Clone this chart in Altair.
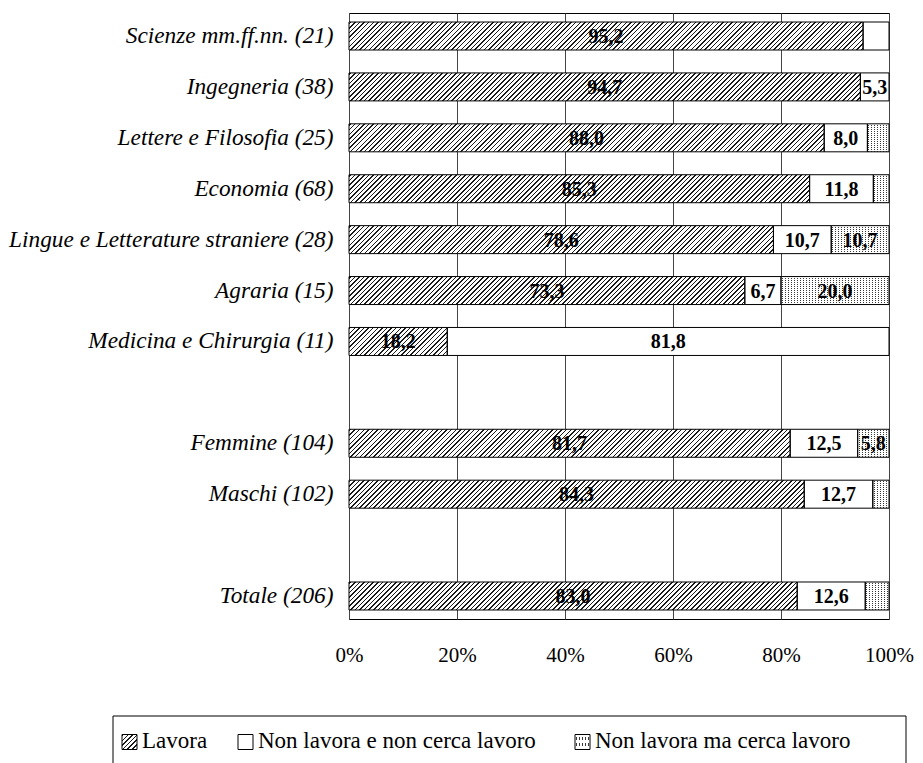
import altair as alt
import pandas as pd

# ---------------- data ----------------
categories = [
    "Scienze mm.ff.nn. (21)",
    "Ingegneria (38)",
    "Lettere e Filosofia (25)",
    "Economia (68)",
    "Lingue e Letterature straniere (28)",
    "Agraria (15)",
    "Medicina e Chirurgia (11)",
    "Femmine (104)",
    "Maschi (102)",
    "Totale (206)",
]
row_order = categories[:7] + [" "] + categories[7:9] + ["  "] + categories[9:]
statuses = ["Lavora", "Non lavora e non cerca lavoro", "Non lavora ma cerca lavoro"]
lavora = [95.2, 94.7, 88.0, 85.3, 78.6, 73.3, 18.2, 81.7, 84.3, 83.0]
non_cerca = [4.8, 5.3, 8.0, 11.8, 10.7, 6.7, 81.8, 12.5, 12.7, 12.6]
cerca = [0.0, 0.0, 4.0, 2.9, 10.7, 20.0, 0.0, 5.8, 3.0, 4.4]
tick_values = [0, 20, 40, 60, 80, 100]

series = [lavora, non_cerca, cerca]
rows = []
for i, c in enumerate(categories):
    for j, s in enumerate(statuses):
        rows.append({"cat": c, "s": s, "o": j, "v": series[j][i]})
df = pd.DataFrame(rows)

# ---------------- layout / style ----------------
W, H = 540, 606
PAD_L, PAD_T = 341, 5
PAD_IN, PAD_OUT = 0.45, 0.177
STEP = H / (len(row_order) - PAD_IN + 2 * PAD_OUT)
BAR_H = STEP * (1 - PAD_IN)
FONT = "Liberation Serif"
CLEAR = "rgba(255,255,255,0)"


def stripe_stops(L, period, lw, ink, bg, start=1.0):
    stops = [{"offset": 0, "color": bg}]
    p = start
    while p < L:
        a = round(p / L, 5)
        b = round(min((p + lw) / L, 1.0), 5)
        stops += [
            {"offset": a, "color": bg},
            {"offset": a, "color": ink},
            {"offset": b, "color": ink},
            {"offset": b, "color": bg},
        ]
        p += period
    stops.append({"offset": 1, "color": bg})
    return stops


def hatch(w, h, period=4.6, lw=1.5, ink="#1a1a1a", bg="#ffffff"):
    L = w + h
    d = w * w + h * h
    return {"gradient": "linear", "x1": 0, "y1": 0,
            "x2": round(L * w / d, 5), "y2": round(L * h / d, 5),
            "stops": stripe_stops(L, period, lw, ink, bg)}


def dot_rows(h):
    return {"gradient": "linear", "x1": 0, "y1": 0, "x2": 0, "y2": 1,
            "stops": stripe_stops(h, 2.0, 1.0, "#3a3a3a", "#ffffff")}


def dot_cols(w):
    # opaque white with transparent columns -> leaves dots where rows are dark
    return {"gradient": "linear", "x1": 0, "y1": 0, "x2": 1, "y2": 0,
            "stops": stripe_stops(w, 3.0, 1.0, CLEAR, "#ffffff")}


base = alt.Chart(df).transform_stack(
    stack="v", groupby=["cat"], sort=[alt.SortField("o", order="ascending")],
    as_=["x0", "x1"],
).transform_filter("datum.v > 0")

y_enc = alt.Y(
    "cat:N",
    scale=alt.Scale(domain=row_order, paddingInner=PAD_IN, paddingOuter=PAD_OUT),
    axis=alt.Axis(title=None, ticks=False, domain=False, labelFont=FONT,
                  labelFontStyle="italic", labelFontSize=23.3, labelColor="black",
                  labelPadding=16, labelLimit=400, grid=False),
)
x_scale = alt.Scale(domain=[0, 100], nice=False)
x_axis = alt.Axis(title=None, values=tick_values, labelExpr="datum.value + '%'",
                  ticks=False, domain=False, labelFont=FONT, labelFontSize=21,
                  labelColor="black", labelPadding=25, grid=True, gridColor="#444444",
                  gridWidth=1, labelOverlap=False, labelFlush=False)
x_enc = alt.X("x0:Q", scale=x_scale, axis=x_axis)
x2_enc = alt.X2("x1:Q")

# hatch / dot fill per bar (depends on bar pixel width)
hatch_conds = [
    {"test": f"datum.cat === '{c}'", "value": hatch(v / 100 * W, BAR_H)}
    for c, v in zip(categories, lavora)
]
mask_conds = [
    {"test": f"datum.cat === '{c}'", "value": dot_cols(v / 100 * W)}
    for c, v in zip(categories, cerca) if v > 0
]

lav_layer = base.transform_filter(alt.datum.s == statuses[0]).mark_bar(
    strokeWidth=0
).encode(x=x_enc, x2=x2_enc, y=y_enc,
         fill=alt.FillValue(value="#888888", condition=hatch_conds))

white_layer = base.transform_filter(alt.datum.s == statuses[1]).mark_bar(
    fill="white", strokeWidth=0
).encode(x=x_enc, x2=x2_enc, y=y_enc)

rows_layer = base.transform_filter(alt.datum.s == statuses[2]).mark_bar(
    fill=dot_rows(BAR_H), strokeWidth=0
).encode(x=x_enc, x2=x2_enc, y=y_enc)

mask_layer = base.transform_filter(alt.datum.s == statuses[2]).mark_bar(
    strokeWidth=0
).encode(x=x_enc, x2=x2_enc, y=y_enc,
         fill=alt.FillValue(value=CLEAR, condition=mask_conds))

outline = base.mark_bar(fillOpacity=0, stroke="black", strokeWidth=1).encode(
    x=x_enc, x2=x2_enc, y=y_enc
)

labels = base.transform_filter("datum.v >= 5").transform_calculate(
    xm="(datum.x0 + datum.x1) / 2",
    lab="replace(format(datum.v, '.1f'), '.', ',')",
).mark_text(font=FONT, fontSize=20, fontWeight="bold", color="black",
            align="center", baseline="middle", dy=1).encode(
    x=alt.X("xm:Q", scale=x_scale, axis=x_axis), y=y_enc, text="lab:N"
)

# ---------------- legend (manual, boxed) ----------------
OX, OY = 8 + PAD_L, 8 + PAD_T  # plot origin on the page
box_l, box_r, box_t, box_b = 113, 906, 716, 790
sym = 15
sym_y = 742
item_x = [122, 238, 575]  # symbol left edges (page px)
one = pd.DataFrame({"k": [0]})

legend_layers = [
    alt.Chart(one).mark_rect(fill="transparent", stroke="black", strokeWidth=1).encode(
        x=alt.value(box_l - OX), x2=alt.value(box_r - OX),
        y=alt.value(box_t - OY), y2=alt.value(box_b - OY))
]
sym_fills = [
    [hatch(sym, sym)],
    ["#ffffff"],
    [dot_rows(sym), dot_cols(sym)],
]
for s, xl, fills in zip(statuses, item_x, sym_fills):
    for f in fills:
        legend_layers.append(
            alt.Chart(one).mark_rect(fill=f, strokeWidth=0).encode(
                x=alt.value(xl - OX), x2=alt.value(xl + sym - OX),
                y=alt.value(sym_y - sym / 2 - OY), y2=alt.value(sym_y + sym / 2 - OY)))
    legend_layers.append(
        alt.Chart(one).mark_rect(fill="transparent", stroke="black", strokeWidth=1).encode(
            x=alt.value(xl - OX), x2=alt.value(xl + sym - OX),
            y=alt.value(sym_y - sym / 2 - OY), y2=alt.value(sym_y + sym / 2 - OY)))
    legend_layers.append(
        alt.Chart(pd.DataFrame({"s": [s]})).mark_text(
            font=FONT, fontSize=23, color="black", align="left", baseline="alphabetic"
        ).encode(x=alt.value(xl + sym + 5 - OX), y=alt.value(748 - OY), text="s:N"))

chart = alt.layer(
    lav_layer, white_layer, rows_layer, mask_layer, outline, labels, *legend_layers
).properties(
    width=W, height=H,
    padding={"left": PAD_L, "top": PAD_T, "right": 26, "bottom": 160},
    autosize=alt.AutoSizeParams(type="none"),
).configure_view(stroke="black", strokeWidth=1)

chart.save("out.html", embed_options={"renderer": "svg", "actions": False})
